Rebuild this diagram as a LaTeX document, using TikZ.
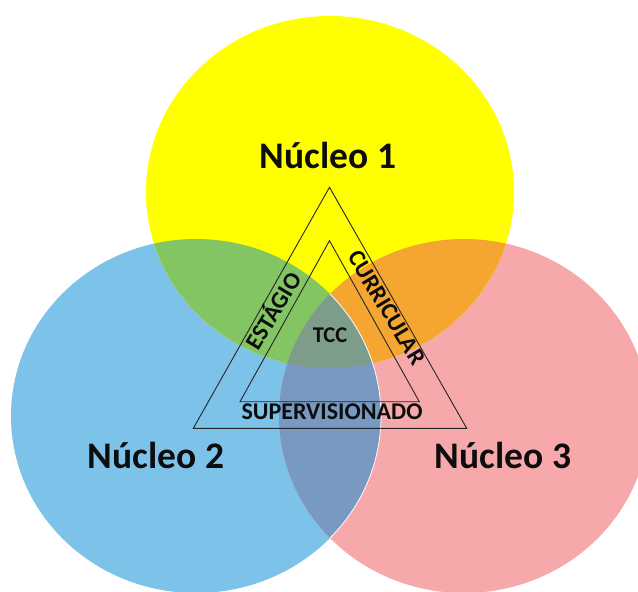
\documentclass[tikz,border=0pt]{standalone}
\usepackage{fontspec}
\setmainfont{Carlito}
\usepackage{xcolor}

\definecolor{amarelo}{HTML}{FFFF00}
\definecolor{azul}{HTML}{7DC2E9}
\definecolor{rosa}{HTML}{F6A8AA}
\definecolor{verde}{HTML}{83C562}
\definecolor{laranja}{HTML}{F5A630}
\definecolor{azulrosa}{HTML}{7899C2}
\definecolor{centro}{HTML}{7E9C8A}

\def\nucA{(330,192) ellipse [x radius=184,y radius=176]}
\def\nucB{(196,416) ellipse [x radius=185,y radius=177]}
\def\nucC{(464,416) ellipse [x radius=185,y radius=177]}

\begin{document}
\begin{tikzpicture}[x=1pt,y=-1pt,
    nucleo/.style={font=\bfseries\fontsize{37.5}{40}\selectfont,anchor=base,text=black!95},
    tag/.style={font=\bfseries\fontsize{24}{26}\selectfont,inner sep=0pt,text=black!95},
    tri/.style={line width=0.9pt,draw=black!85}]
   \fill[white] (0,0) rectangle (638,592);
   \useasboundingbox (0,0) rectangle (638,592);

   % the three circles
   \fill[azul] \nucB;
   \fill[rosa] \nucC;
   \fill[amarelo] \nucA;
   \begin{scope} \clip \nucA; \fill[verde] \nucB; \end{scope}
   \begin{scope} \clip \nucA; \fill[laranja] \nucC; \end{scope}
   \begin{scope} \clip \nucB; \fill[azulrosa] \nucC; \end{scope}
   \begin{scope} \clip \nucA; \clip \nucB; \fill[centro] \nucC; \end{scope}
   \begin{scope} \clip \nucC; \draw[white,line width=0.8pt] \nucB; \end{scope}

   % triangles
   \coordinate (o1) at (329.5,187.3);
   \coordinate (o2) at (466.7,428.3);
   \coordinate (o3) at (193.3,428.3);
   \coordinate (i1) at (329.5,240.7);
   \coordinate (i2) at (419.3,401.7);
   \coordinate (i3) at (240,401.7);
   \draw[tri] (o1) -- (o2) -- (o3) -- cycle;
   \draw[tri] (i1) -- (i2) -- (i3) -- cycle;

   \node[nucleo] (n1) at (328,168) {Núcleo 1};
   \node[nucleo] (n2) at (156,468) {Núcleo 2};
   \node[nucleo] (n3) at (503,468) {Núcleo 3};

   \node[tag,anchor=base,font=\bfseries\fontsize{22.5}{24}\selectfont] (tcc) at (330,342.7) {TCC};
   \node[tag,anchor=base] (sup) at (332,419.3) {SUPERVISIONADO};
   \node[tag,rotate=59] (est) at (272,310) {ESTÁGIO};
   \node[tag,rotate=-59] (cur) at (387,308) {CURRICULAR};
\end{tikzpicture}
\end{document}
